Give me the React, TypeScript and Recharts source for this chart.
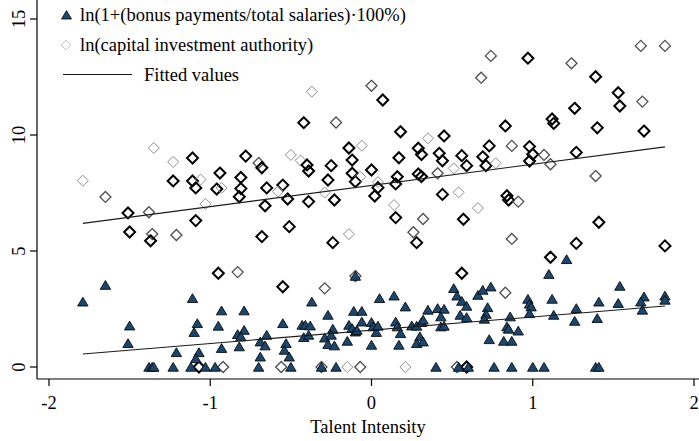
import React from 'react';
import { ScatterChart, Scatter, XAxis, YAxis, Legend } from 'recharts';

const FONT = '"Liberation Serif", "Times New Roman", Times, serif';
const FS = 18.5;
const NAVY = '#1a476f';

const xTicks = [-2, -1, 0, 1, 2];
const yTicks = [0, 5, 10, 15];
const xTitle = 'Talent Intensity';
const legendLabels = [
  'ln(1+(bonus payments/total salaries)·100%)',
  'ln(capital investment authority)',
  'Fitted values',
];

// ln(1+(bonus payments/total salaries)*100%) : [talent intensity, value]
const bonusPoints: [number, number][] = [
  [-1.65, 3.53], [-1.79, 2.81], [-1.11, 2.96], [-0.93, 2.43], [-0.79, 2.43], [-1.5, 1.78],
  [-1.51, 1.02], [-1.08, 1.88], [-1.1, 1.5], [-0.95, 1.77], [-1.21, 0.63], [-1.07, 0.63],
  [-1.09, 0.37], [-0.93, 0.81], [-0.82, 0.88], [-0.83, 1.41], [-0.79, 1.59], [-0.81, 1.31],
  [-1.38, 0], [-1.36, 0], [-1.35, 0], [-1.23, 0], [-1.12, 0], [-1.03, 0], [-0.97, 0],
  [-0.37, 2.81], [0.05, 2.96], [0.14, 3.07], [0.21, 2.6], [0.35, 2.46], [0.41, 2.53],
  [0.45, 2.5], [0.43, 2.17], [0.51, 3.39], [0.53, 3.07], [0.56, 2.84], [0.59, 2.63],
  [0.55, 2.24], [0.59, 2.14], [0.66, 3.1], [-0.1, 3.92], [-0.27, 2.24], [-0.11, 2.41],
  [-0.06, 2.41], [-0.06, 1.95], [-0.55, 1.88], [-0.43, 1.81], [-0.41, 1.81], [-0.38, 1.78],
  [-0.24, 1.64], [-0.14, 1.81], [-0.12, 1.67], [-0.1, 1.52], [-0.09, 1.59], [0.0, 1.93],
  [0.01, 1.74], [0.03, 1.5], [0.04, 1.77], [0.15, 1.95], [0.16, 1.74], [0.18, 1.45],
  [0.25, 1.78], [0.28, 1.77], [0.31, 1.93], [0.32, 2.03], [0.3, 1.31], [0.28, 1.02],
  [0.32, 1.09], [0.43, 1.74], [0.45, 1.77], [-0.65, 1.38], [-0.69, 1.09], [-0.66, 0.92],
  [-0.53, 1.02], [-0.54, 0.73], [-0.51, 0.44], [-0.69, 0.44], [-0.42, 1.28], [-0.39, 1.38],
  [-0.29, 1.26], [-0.25, 1.38], [-0.27, 0.98], [-0.23, 0.92], [-0.15, 1.12], [0.0, 0.95],
  [0.17, 0.95],
  [-0.7, 0], [-0.5, 0], [-0.31, 0], [-0.22, 0], [0.4, 0], [0.54, 0], [0.6, 0],
  [1.21, 4.64], [1.1, 4.0], [0.74, 3.46], [0.69, 3.32], [1.54, 3.49], [0.97, 2.93],
  [1.12, 2.93], [1.41, 2.81], [1.53, 2.75], [1.69, 3.03], [1.67, 2.81], [1.82, 3.07],
  [1.82, 2.89], [0.72, 2.57], [0.71, 2.28], [0.7, 2.07], [0.98, 2.72], [0.99, 2.6],
  [0.98, 2.31], [1.27, 2.53], [1.13, 2.24], [0.86, 2.17], [0.84, 1.74], [0.85, 1.64],
  [0.91, 1.56], [1.26, 1.98], [1.4, 2.1], [1.68, 2.46], [0.73, 1.19], [0.82, 1.12],
  [0.87, 1.12],
  [0.76, 0], [0.87, 0], [1.0, 0], [1.07, 0], [1.39, 0], [1.41, 0],
];

// ln(capital investment authority) : [talent intensity, value, overlapping observations]
const capitalPoints: [number, number, number][] = [
  [-1.79, 8.03, 1], [-1.65, 7.33, 2], [-1.51, 6.64, 3], [-1.38, 6.67, 2], [-1.5, 5.82, 3],
  [-1.36, 5.73, 2], [-1.37, 5.44, 3], [-1.21, 5.69, 2], [-1.35, 9.44, 1], [-1.23, 8.84, 1],
  [-1.11, 9.01, 3], [-1.23, 8.02, 3], [-1.11, 8.02, 3], [-1.09, 7.72, 3], [-1.06, 8.08, 1],
  [-1.03, 7.03, 1], [-1.09, 6.31, 3], [-0.94, 8.36, 3], [-0.96, 7.67, 3], [-0.93, 7.72, 1],
  [-0.81, 8.17, 3], [-0.81, 7.69, 3], [-0.82, 7.34, 3], [-0.78, 9.09, 3], [-0.95, 4.04, 3],
  [-0.83, 4.09, 2], [-1.07, 0, 3], [-0.92, 0, 2],
  [-0.7, 8.79, 2], [-0.68, 8.59, 3], [-0.65, 7.72, 3], [-0.66, 6.95, 3], [-0.68, 5.62, 3],
  [-0.55, 7.84, 3], [-0.52, 7.24, 3], [-0.58, 7.56, 1], [-0.51, 6.05, 3], [-0.42, 10.53, 3],
  [-0.5, 9.14, 1], [-0.44, 8.9, 1], [-0.4, 8.71, 3], [-0.39, 8.45, 3], [-0.39, 7.13, 3],
  [-0.29, 7.52, 1], [-0.27, 8.06, 3], [-0.25, 8.68, 3], [-0.23, 7.2, 3], [-0.24, 5.36, 3],
  [-0.22, 10.54, 2], [-0.14, 5.73, 1], [-0.14, 9.44, 3], [-0.37, 11.87, 1], [0.0, 12.12, 2],
  [0.07, 11.51, 3], [0.18, 10.14, 3], [0.35, 9.86, 1], [0.45, 9.96, 3], [-0.06, 9.54, 1],
  [-0.12, 8.92, 3], [-0.12, 8.35, 3], [-0.1, 7.99, 3], [-0.07, 8.2, 1], [0.0, 8.49, 3],
  [0.04, 7.97, 1], [0.04, 7.73, 3], [0.02, 7.37, 3], [0.17, 9.02, 3], [0.29, 9.43, 3],
  [0.31, 9.16, 3], [0.42, 9.21, 3], [0.44, 8.89, 3], [0.41, 8.35, 2], [0.56, 9.11, 3],
  [0.59, 8.68, 3], [0.51, 8.56, 1], [0.16, 8.2, 3], [0.15, 7.89, 3], [0.29, 8.32, 3],
  [0.31, 8.21, 3], [0.44, 7.44, 3], [0.54, 7.53, 1], [0.14, 6.98, 1], [0.15, 6.44, 3],
  [0.32, 6.38, 2], [0.57, 6.37, 3], [0.66, 6.85, 1], [0.26, 5.81, 2], [0.28, 5.36, 3],
  [0.56, 4.04, 3], [-0.1, 3.92, 2], [-0.55, 3.46, 3], [-0.29, 3.39, 2],
  [-0.56, 0, 2], [-0.31, 0, 2], [-0.15, 0, 1], [-0.07, 0, 2], [0.21, 0, 1], [0.53, 0, 2],
  [0.59, 0, 3],
  [1.67, 13.84, 2], [1.82, 13.84, 2], [0.74, 13.41, 2], [0.97, 13.31, 3], [1.24, 13.09, 2],
  [0.68, 12.47, 2], [1.39, 12.51, 3], [1.53, 11.82, 3], [1.54, 11.25, 3], [1.68, 11.44, 2],
  [1.26, 11.15, 3], [0.83, 10.39, 3], [1.12, 10.69, 3], [1.13, 10.5, 3], [1.4, 10.31, 3],
  [1.69, 10.17, 3], [0.73, 9.53, 3], [0.87, 9.53, 2], [0.69, 9.06, 3], [0.71, 8.68, 3],
  [0.77, 8.78, 1], [0.98, 9.5, 3], [1.0, 9.17, 3], [0.98, 8.88, 3], [1.07, 9.14, 2],
  [1.11, 8.74, 2], [1.27, 9.25, 3], [1.39, 8.23, 2], [0.84, 7.38, 3], [0.85, 7.2, 3],
  [0.91, 7.13, 2], [1.41, 6.24, 3], [0.87, 5.52, 2], [1.27, 5.33, 3], [1.82, 5.22, 3],
  [1.11, 4.73, 3], [0.83, 3.2, 2],
];

// Fitted values (end points of each linear fit)
const bonusFit: [number, number][] = [[-1.79, 0.56], [1.82, 2.63]];
const capitalFit: [number, number][] = [[-1.79, 6.19], [1.82, 9.49]];

const bonusData = bonusPoints.map(([x, y]) => ({ x, y }));
const capitalData = capitalPoints.map(([x, y, n]) => ({ x, y, n }));
const bonusFitData = bonusFit.map(([x, y]) => ({ x, y }));
const capitalFitData = capitalFit.map(([x, y]) => ({ x, y }));

const DIAMOND_STYLE: Record<number, { stroke: string; w: number }> = {
  1: { stroke: '#8e8e8e', w: 1 },
  2: { stroke: '#4e4e4e', w: 1.3 },
  3: { stroke: '#000000', w: 2 },
};

const TriangleMark = (p: any) => {
  const { cx, cy } = p;
  if (cx == null || cy == null) return <g />;
  return (
    <polygon
      points={`${cx},${cy - 4.6} ${cx - 5.2},${cy + 4.2} ${cx + 5.2},${cy + 4.2}`}
      fill={NAVY}
      stroke="#0a0a0a"
      strokeWidth={0.9}
    />
  );
};

const DiamondMark = (p: any) => {
  const { cx, cy, payload } = p;
  if (cx == null || cy == null) return <g />;
  const s = DIAMOND_STYLE[(payload && payload.n) || 1];
  const r = 5.5;
  return (
    <polygon
      points={`${cx},${cy - r} ${cx + r},${cy} ${cx},${cy + r} ${cx - r},${cy}`}
      fill="none"
      stroke={s.stroke}
      strokeWidth={s.w}
    />
  );
};

const NoMark = () => <g />;

const YTick = (p: any) => (
  <text
    x={0}
    y={0}
    transform={`translate(${p.x},${p.y}) rotate(-90)`}
    textAnchor="middle"
    fill="#000"
    fontSize={FS}
    fontFamily={FONT}
  >
    {p.payload.value}
  </text>
);

const LegendBox = () => (
  <svg width={440} height={90} style={{ display: 'block', overflow: 'visible' }}>
    <polygon points="66.5,10.6 61.5,19 71.5,19" fill={NAVY} stroke="#0a0a0a" strokeWidth={0.8} />
    <text x={80} y={21} fontSize={FS} fontFamily={FONT} fill="#000">{legendLabels[0]}</text>
    <polygon points="66,40 71,45 66,50 61,45" fill="none" stroke="#c8c8c8" strokeWidth={1} />
    <text x={80} y={51} fontSize={FS} fontFamily={FONT} fill="#000">{legendLabels[1]}</text>
    <line x1={63} x2={132} y1={74.5} y2={74.5} stroke="#1a1a1a" strokeWidth={1.1} />
    <text x={144} y={81} fontSize={FS} fontFamily={FONT} fill="#000">{legendLabels[2]}</text>
  </svg>
);

export default function App() {
  return (
    <div style={{ position: 'absolute', left: 0, top: 0, width: 699, height: 441, background: '#fff' }}>
      <ScatterChart width={699} height={441} margin={{ top: 0, right: 0, bottom: 0, left: 0 }}>
        <XAxis
          type="number"
          dataKey="x"
          domain={[-2.0744, 2.031]}
          allowDataOverflow
          ticks={xTicks}
          interval={0}
          height={62}
          tickSize={7}
          tickMargin={10}
          axisLine={{ stroke: '#000', strokeWidth: 1.2 }}
          tickLine={{ stroke: '#000', strokeWidth: 1.2 }}
          tick={{ fill: '#000', fontSize: FS, fontFamily: FONT }}
          label={{ value: xTitle, position: 'insideBottom', offset: 8, fill: '#000', fontSize: FS, fontFamily: FONT }}
        />
        <YAxis
          type="number"
          dataKey="y"
          domain={[-0.517, 15.819]}
          allowDataOverflow
          ticks={yTicks}
          interval={0}
          width={37}
          tickSize={7}
          tickMargin={5.5}
          axisLine={{ stroke: '#000', strokeWidth: 1.2 }}
          tickLine={{ stroke: '#000', strokeWidth: 1.2 }}
          tick={(props: any) => <YTick {...props} />}
        />
        <Legend
          layout="vertical"
          align="center"
          verticalAlign="middle"
          wrapperStyle={{ position: 'absolute', left: 0, top: 0, width: 440, height: 90 }}
          content={() => <LegendBox />}
        />
        <Scatter data={capitalData} shape={(p: any) => <DiamondMark {...p} />} isAnimationActive={false} legendType="none" />
        <Scatter data={bonusData} shape={(p: any) => <TriangleMark {...p} />} isAnimationActive={false} legendType="none" />
        <Scatter
          data={capitalFitData}
          line={{ stroke: '#1a1a1a', strokeWidth: 1.1 }}
          lineType="joint"
          shape={NoMark}
          isAnimationActive={false}
          legendType="none"
        />
        <Scatter
          data={bonusFitData}
          line={{ stroke: '#1a1a1a', strokeWidth: 1.1 }}
          lineType="joint"
          shape={NoMark}
          isAnimationActive={false}
          legendType="none"
        />
      </ScatterChart>
    </div>
  );
}
